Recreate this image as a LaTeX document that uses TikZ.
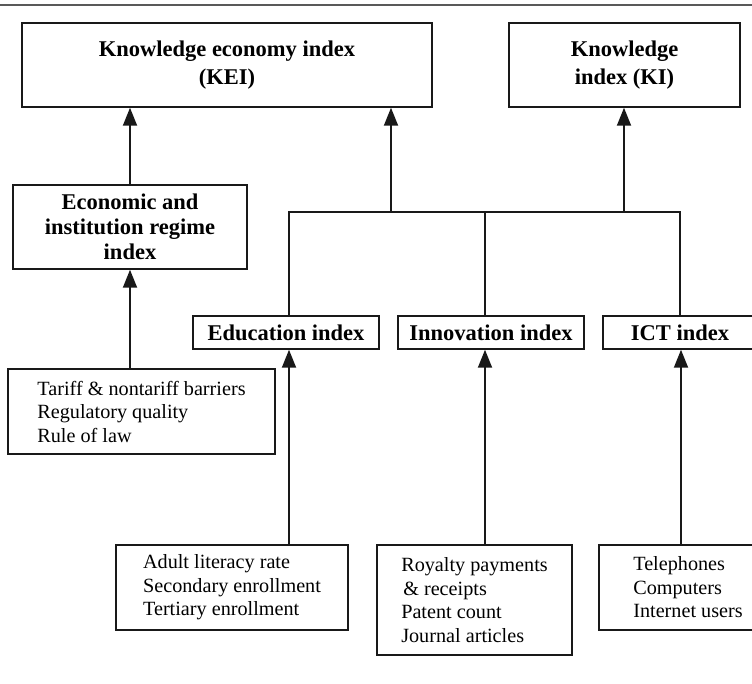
\documentclass[tikz,border=0pt]{standalone}
\usepackage{fontspec}
\setmainfont{Liberation Serif}
\usetikzlibrary{arrows.meta}
\begin{document}
\begin{tikzpicture}[x=1pt,y=-1pt,
  boxbase/.style={draw=black!90, line width=1.5pt, rectangle, inner sep=2pt},
  hbox/.style={boxbase, font=\bfseries\fontsize{22.5}{28}\selectfont, align=center},
  lbox/.style={boxbase, font=\fontsize{20.2}{23.5}\selectfont, align=left},
  conn/.style={draw=black!90, line width=1.9pt},
  arr/.style={conn, -{Triangle[length=18pt,width=14pt]}}
]
\useasboundingbox (0,0) rectangle (752,684);
\draw[draw=black!65, line width=1.2pt] (0,5) -- (752,5);

% top boxes
\node[hbox, minimum width=410pt, minimum height=84pt] (KEI) at (227,65) {Knowledge economy index\\(KEI)};
\node[hbox, minimum width=231pt, minimum height=84pt] (KI) at (624.5,65) {Knowledge\\index (KI)};
\node[hbox, minimum width=234pt, minimum height=84pt, font=\bfseries\fontsize{22.5}{25}\selectfont] (econ) at (130,227) {Economic and\\institution regime\\index};

% middle boxes
\node[hbox, minimum width=186pt, minimum height=33pt] (edu) at (286,332.5) {Education index};
\node[hbox, minimum width=186pt, minimum height=33pt] (inno) at (491,332.5) {Innovation index};
\node[hbox, minimum width=154pt, minimum height=33pt] (ict) at (680,332.5) {ICT index};

% indicator boxes
\node[lbox, minimum width=267pt, minimum height=85pt] (tariff) at (141.5,411.5) {Tariff \& nontariff barriers\\Regulatory quality\\Rule of law};
\node[lbox, minimum width=232pt, minimum height=85pt] (edub) at (232,587.5) {Adult literacy rate\\Secondary enrollment\\Tertiary enrollment};
\node[lbox, minimum width=195pt, minimum height=110pt] (innob) at (474.5,600) {Royalty payments\\\hspace{2pt}\& receipts\\Patent count\\Journal articles};
\node[lbox, minimum width=178pt, minimum height=85pt] (ictb) at (688,587.5) {Telephones\\Computers\\Internet users};

% bus coordinates
\coordinate (busE) at (289,212);
\coordinate (busI) at (485,212);
\coordinate (busC) at (680,212);
\coordinate (busKEI) at (391,212);
\coordinate (busKI) at (624,212);

% connectors
\draw[arr] (econ.north) -- (econ.north |- KEI.south);
\draw[arr] (econ.south |- tariff.north) -- (econ.south);
\draw[conn] (busE |- edu.north) -- (busE) -- (busC) -- (busC |- ict.north);
\draw[conn] (busI) -- (busI |- inno.north);
\draw[arr] (busKEI) -- (busKEI |- KEI.south);
\draw[arr] (busKI) -- (busKI |- KI.south);
\draw[arr] (busE |- edub.north) -- (busE |- edu.south);
\draw[arr] (busI |- innob.north) -- (busI |- inno.south);
\draw[arr] (681,0 |- ictb.north) -- (681,0 |- ict.south);
\end{tikzpicture}
\end{document}
